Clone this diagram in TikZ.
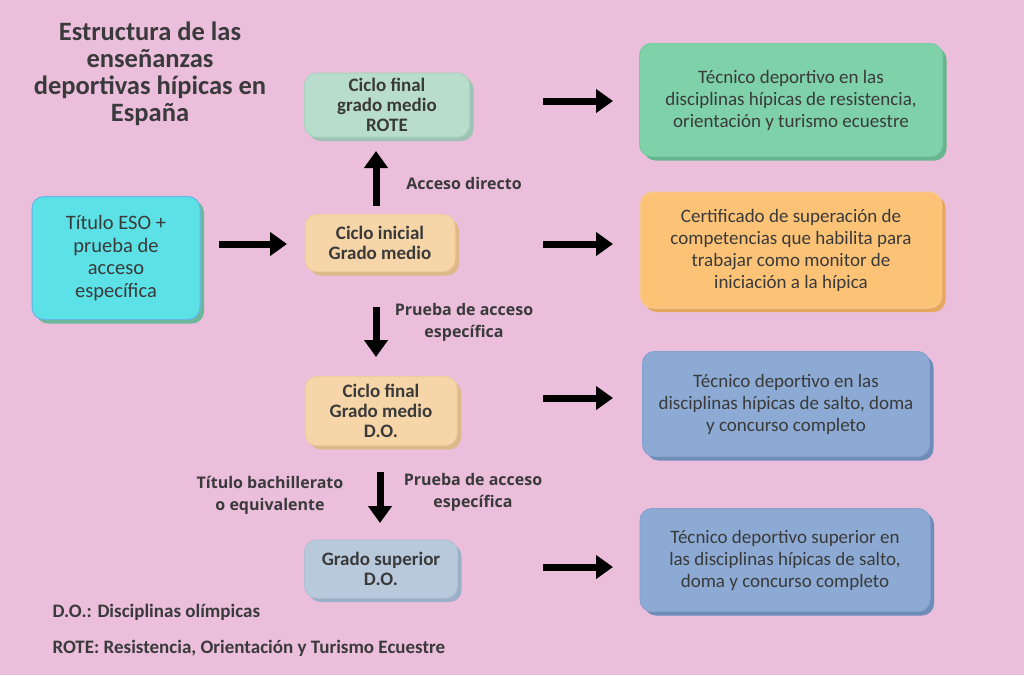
\documentclass[tikz,border=0pt]{standalone}
\usepackage{fontspec}
\setmainfont{Carlito}
\newfontfamily\lblfont{Open Sans}
\usetikzlibrary{arrows.meta,shadows}
\definecolor{bg}{HTML}{EBBEDB}
\definecolor{txt}{HTML}{3A3A3A}
\definecolor{mint}{HTML}{B9DDCC}\definecolor{mintsh}{HTML}{9DC4B2}\definecolor{mintbd}{HTML}{A9D3C0}
\definecolor{peach}{HTML}{F6D5A8}\definecolor{peachsh}{HTML}{DDB98A}\definecolor{peachbd}{HTML}{F0CC9C}
\definecolor{cyanb}{HTML}{5CE1E6}\definecolor{cyansh}{HTML}{6DB89A}\definecolor{cyanbd}{HTML}{64B5E8}
\definecolor{greenb}{HTML}{7ED1A9}\definecolor{greensh}{HTML}{66B58E}\definecolor{greenbd}{HTML}{76CBA1}
\definecolor{orangeb}{HTML}{FCC276}\definecolor{orangesh}{HTML}{E6A860}\definecolor{orangebd}{HTML}{F6CB90}
\definecolor{blueb}{HTML}{8CAAD3}\definecolor{bluesh}{HTML}{6E8CB8}\definecolor{bluebd}{HTML}{84A2CC}
\definecolor{lblue}{HTML}{B8C9DC}\definecolor{lbluesh}{HTML}{9BAFC8}\definecolor{lbluebd}{HTML}{AFC1D6}
\tikzset{
  box/.style n args={3}{draw=#2, fill=#1, line width=1pt, rounded corners=12pt, inner sep=0pt,
    align=center, text=txt,
    drop shadow={shadow xshift=4pt, shadow yshift=-4pt, fill=#3, opacity=1}},
  midtext/.style={font=\fontsize{19}{20}\selectfont\bfseries},
  righttext/.style={font=\fontsize{19}{22}\selectfont},
  esotext/.style={font=\fontsize{20.5}{22.5}\selectfont},
  lbl/.style={text=txt, align=center, font=\lblfont\fontsize{16}{22}\selectfont\bfseries},
  leg/.style={anchor=west, text=txt, font=\fontsize{19}{20}\selectfont\bfseries},
  arr/.style={line width=7pt, -{Triangle[length=17pt,width=23pt]}, black},
}
\begin{document}
\begin{tikzpicture}[x=1pt,y=-1pt]
\fill[bg] (0,0) rectangle (1024,675);
\useasboundingbox (0,0) rectangle (1024,675);

% title
\node[text=txt, align=center, font=\fontsize{26.5}{27}\selectfont\bfseries] (title) at (150,74)
  {Estructura de las\\enseñanzas\\deportivas hípicas en\\España};

% middle boxes
\node[box={mint}{mintbd}{mintsh}, minimum width=165pt, minimum height=64pt, midtext] (rote) at (387,105)
  {Ciclo final\\grado medio\\ROTE};
\node[box={peach}{peachbd}{peachsh}, minimum width=150pt, minimum height=57pt, midtext] (ini) at (380,243)
  {Ciclo inicial\\Grado medio};
\node[box={peach}{peachbd}{peachsh}, minimum width=152pt, minimum height=69pt, midtext] (do) at (381,411)
  {Ciclo final\\Grado medio\\D.O.};
\node[box={lblue}{lbluebd}{lbluesh}, minimum width=153pt, minimum height=58pt, midtext] (sup) at (381,569)
  {Grado superior\\D.O.};

% left box
\node[box={cyanb}{cyanbd}{cyansh}, minimum width=168pt, minimum height=123pt, esotext] (eso) at (116,258)
  {Título ESO +\\prueba de\\acceso\\específica};

% right boxes
\node[box={greenb}{greenbd}{greensh}, minimum width=303pt, minimum height=113pt, righttext] (r1) at (791,100)
  {Técnico deportivo en las\\disciplinas hípicas de resistencia,\\orientación y turismo ecuestre};
\node[box={orangeb}{orangebd}{orangesh}, minimum width=301pt, minimum height=116pt, righttext] (r2) at (791,250)
  {Certificado de superación de\\competencias que habilita para\\trabajar como monitor de\\iniciación a la hípica};
\node[box={blueb}{bluebd}{bluesh}, minimum width=287pt, minimum height=105pt, righttext] (r3) at (786,404)
  {Técnico deportivo en las\\disciplinas hípicas de salto, doma\\y concurso completo};
\node[box={blueb}{bluebd}{bluesh}, minimum width=290pt, minimum height=103pt, righttext] (r4) at (785,560)
  {Técnico deportivo superior en\\las disciplinas hípicas de salto,\\doma y concurso completo};

% arrows
\coordinate (a1s) at (543,101); \coordinate (a1e) at (613,101);
\coordinate (a2s) at (219,244); \coordinate (a2e) at (287,244);
\coordinate (a3s) at (543,244); \coordinate (a3e) at (613,244);
\coordinate (a4s) at (543,398); \coordinate (a4e) at (613,398);
\coordinate (a5s) at (543,567); \coordinate (a5e) at (613,567);
\coordinate (u1s) at (376,206); \coordinate (u1e) at (376,151);
\coordinate (d1s) at (376,307); \coordinate (d1e) at (376,357);
\coordinate (d2s) at (380,472); \coordinate (d2e) at (380,523);
\foreach \s/\e in {a1s/a1e,a2s/a2e,a3s/a3e,a4s/a4e,a5s/a5e,u1s/u1e,d1s/d1e,d2s/d2e}
  \draw[arr] (\s) -- (\e);

% labels
\node[lbl] (l1) at (464,183) {Acceso directo};
\node[lbl] (l2) at (464,322) {Prueba de acceso\\específica};
\node[lbl] (l3) at (270,495) {Título bachillerato\\o equivalente};
\node[lbl] (l4) at (473,492) {Prueba de acceso\\específica};

% legend
\node[leg] (leg1) at (49,612) {D.O.: Disciplinas olímpicas};
\node[leg] (leg2) at (49,648) {ROTE: Resistencia, Orientación y Turismo Ecuestre};
\end{tikzpicture}
\end{document}
